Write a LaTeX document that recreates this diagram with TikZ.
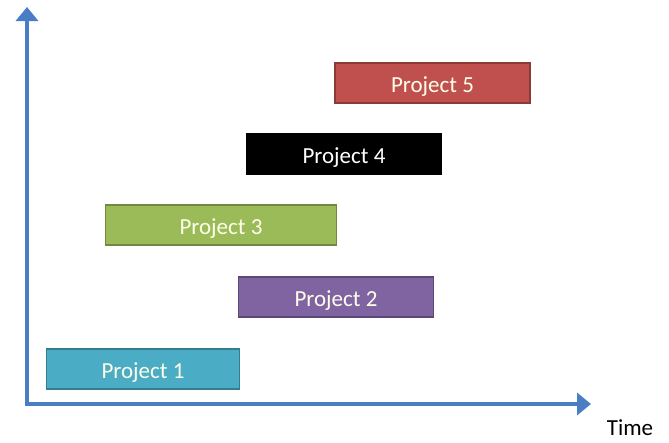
\documentclass[tikz,border=0pt]{standalone}
\usepackage{fontspec}
\setmainfont{Carlito}
\usetikzlibrary{arrows.meta}
\definecolor{axisblue}{HTML}{4A7EC4}
\definecolor{redfill}{HTML}{C0504D}\definecolor{redline}{HTML}{8C3A37}
\definecolor{greenfill}{HTML}{9BBB59}\definecolor{greenline}{HTML}{71893F}
\definecolor{purplefill}{HTML}{8064A2}\definecolor{purpleline}{HTML}{5C4776}
\definecolor{cyanfill}{HTML}{4BACC6}\definecolor{cyanline}{HTML}{357D91}
\definecolor{blackfill}{HTML}{000000}\definecolor{blackline}{HTML}{000000}
\tikzset{
  bar/.style={draw=#1line, fill=#1fill, line width=1.5pt, minimum height=40pt,
    text=white!92!yellow, font=\fontsize{23}{25}\selectfont, inner sep=0pt,
    text height=18pt, text depth=0pt},
  axisline/.style={draw=axisblue, line width=4pt,
    -{Triangle[width=22pt,length=14pt]}},
}
\begin{document}
\begin{tikzpicture}[x=1pt,y=-1pt]
\useasboundingbox (0,0) rectangle (669,442);
% axes
\coordinate (origin) at (27,404);
\coordinate (ytop) at (27,7);
\coordinate (xend) at (591,404);
\draw[axisline] ([yshift=2pt]origin) -- (ytop);
\draw[axisline] ([xshift=-2pt]origin) -- (xend);
\node[font=\fontsize{23}{25}\selectfont, inner sep=1pt] (time) at (630,428) {Time};
% project bars
\node[bar=red, minimum width=195pt] (p5) at (432.5,83) {Project 5};
\node[bar=black, text=white, minimum width=194pt] (p4) at (344,154) {Project 4};
\node[bar=green, minimum width=231pt] (p3) at (221,225) {Project 3};
\node[bar=purple, minimum width=195pt] (p2) at (336,297) {Project 2};
\node[bar=cyan, minimum width=193pt] (p1) at (143,369) {Project 1};
\end{tikzpicture}
\end{document}
